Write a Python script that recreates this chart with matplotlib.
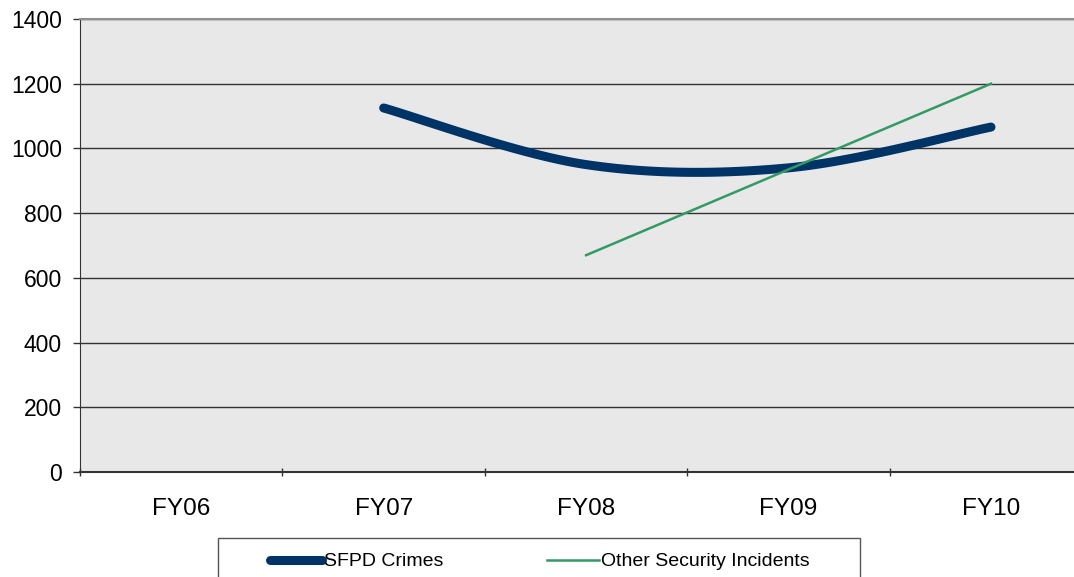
import numpy as np
import matplotlib.pyplot as plt
from matplotlib.patches import Rectangle

plt.rcParams['font.family'] = ['Liberation Sans', 'DejaVu Sans']

years = ["FY06", "FY07", "FY08", "FY09", "FY10"]
sfpd_x = [1, 2, 3, 4]
sfpd_crimes = [1125, 950, 940, 1066]
other_x = [2, 3, 4]
other_incidents = [670, 935, 1200]

NAVY = "#003366"
GREEN = "#339966"


def smooth(xs, ys, n=40):
    # excel-like smoothed line: bezier segments with catmull-rom control points
    xs = np.asarray(xs, float)
    ys = np.asarray(ys, float)
    pts = np.column_stack([xs, ys])
    out = []
    t = np.linspace(0, 1, n)[:, None]
    for i in range(len(pts) - 1):
        p0 = pts[i]
        p3 = pts[i + 1]
        prev = pts[i - 1] if i > 0 else p0
        nxt = pts[i + 2] if i + 2 < len(pts) else p3
        c1 = p0 + (p3 - prev) / 6
        c2 = p3 - (nxt - p0) / 6
        seg = ((1 - t) ** 3) * p0 + 3 * ((1 - t) ** 2) * t * c1 + 3 * (1 - t) * t ** 2 * c2 + t ** 3 * p3
        out.append(seg if i == 0 else seg[1:])
    out = np.vstack(out)
    return out[:, 0], out[:, 1]


fig = plt.figure(figsize=(10.74, 5.77), dpi=100)
ax = fig.add_axes([80 / 1074, 1 - 472 / 577, 994 / 1074, 453 / 577])
ax.set_facecolor("#E8E8E8")

sx, sy = smooth(sfpd_x, sfpd_crimes)
ax.plot(sx, sy, color=NAVY, lw=6.5, solid_capstyle="round", label="SFPD Crimes", zorder=3)
ax.plot(other_x, other_incidents, color=GREEN, lw=1.8, label="Other Security Incidents", zorder=4)

ax.set_ylim(0, 1400)
ax.set_yticks(range(0, 1401, 200))
ax.set_xlim(-0.5, 4.41)
ax.set_xticks(range(len(years)))
ax.set_xticklabels(years)
ax.set_xticks(np.arange(-0.5, 4.5, 1), minor=True)

ax.grid(axis="y", color="#333333", lw=1)
ax.set_axisbelow(True)
ax.tick_params(axis="y", length=5, width=1, direction="out", pad=8, labelsize=16.5, color="#333333")
ax.tick_params(axis="x", which="major", length=0, pad=19, labelsize=17.5)
ax.tick_params(axis="x", which="minor", length=6, width=1, direction="inout", color="#333333")

ax.spines["right"].set_visible(False)
ax.spines["top"].set_color("#909090")
ax.spines["top"].set_linewidth(1.5)
ax.spines["left"].set_color("#333333")
ax.spines["bottom"].set_color("#333333")
ax.spines["bottom"].set_linewidth(1.5)

# legend box (cut at bottom of figure)
fig.patches.append(Rectangle((218 / 1074, -0.02), 642 / 1074, 0.02 + 1 - 538 / 577,
                             transform=fig.transFigure, fill=False, edgecolor="#555555", lw=1))
handles, labels = ax.get_legend_handles_labels()
fig.legend(handles, labels, loc="upper left", bbox_to_anchor=(260 / 1074, 1 - 543 / 577),
           ncol=2, frameon=False, borderpad=0, fontsize=14, handlelength=2.7,
           handletextpad=0.1, columnspacing=5.3)

fig.savefig("out.png", dpi=100)
